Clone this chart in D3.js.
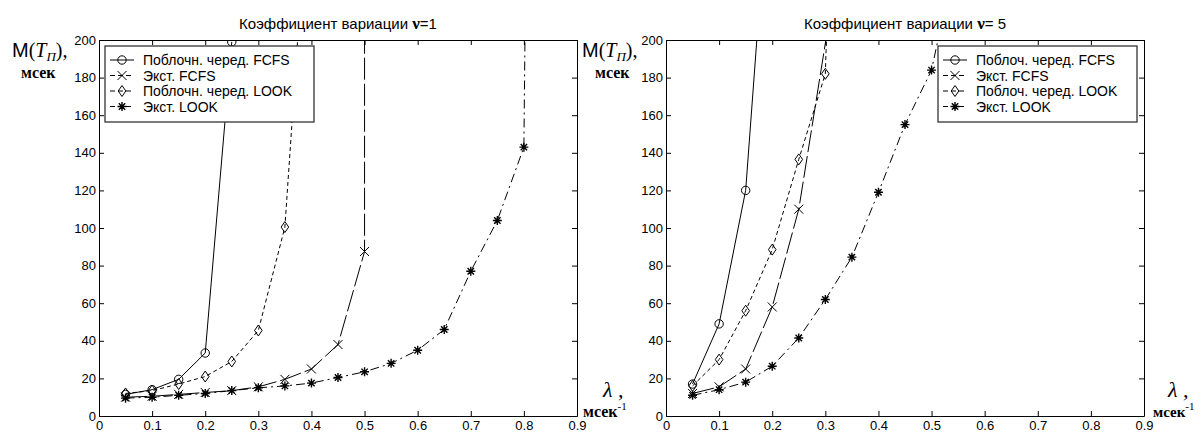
<!DOCTYPE html>
<html>
<head>
<meta charset="utf-8">
<script src="https://cdn.jsdelivr.net/npm/d3@7"></script>
<style>
  body { margin: 0; background: #fff; }
  svg text { fill: #000; }
</style>
</head>
<body>
<div id="chart"></div>
<script>
// intensity of requests, msec^-1
var lambda = [0.05, 0.1, 0.15, 0.2, 0.25, 0.3, 0.35, 0.4, 0.45, 0.5, 0.55, 0.6, 0.65, 0.7, 0.75, 0.8];
var xTicks = [0, 0.1, 0.2, 0.3, 0.4, 0.5, 0.6, 0.7, 0.8, 0.9];
var yTicks = [0, 20, 40, 60, 80, 100, 120, 140, 160, 180, 200];

// nu = 1 (left)
var blockFcfs1 = [11.5, 14, 19.5, 33.5, 199];
var extFcfs1 = [10, 10.5, 11.5, 12.5, 13.5, 15.5, 19.5, 25, 38, 87.5];
var blockLook1 = [12, 13.5, 17, 21, 29, 45.5, 100.5];
var extLook1 = [9.5, 10, 11, 12, 13.5, 15, 16, 17.5, 20.5, 23.5, 28, 35, 46, 77, 104, 143];
// lambda where each curve runs off the top of the axes
var exit1 = [null, 0.5, 0.374, 0.802];
var names1 = ["Поблочн. черед. FCFS", "Экст. FCFS", "Поблочн. черед. LOOK", "Экст. LOOK"];

// nu = 5 (right)
var blockFcfs5 = [17, 49, 120];
var extFcfs5 = [12, 15.5, 25, 58, 110];
var blockLook5 = [16, 30, 56, 88.5, 136.5, 182];
var extLook5 = [11, 14, 18, 26.5, 41.5, 62, 84.5, 119, 155, 184];
var exit5 = [0.171, 0.301, 0.302, 0.512];
var names5 = ["Поблоч. черед. FCFS", "Экст. FCFS", "Поблоч. черед. LOOK", "Экст. LOOK"];

var W = 1203, H = 435;
var serif = "'Liberation Serif', 'Times New Roman', serif";
var styles = [
  { dash: null, marker: "circle" },
  { dash: "22,4", marker: "x" },
  { dash: "4,3", marker: "diamond" },
  { dash: "9,4,2,4", marker: "star" }
];

var svg = d3.select("#chart").append("svg")
  .attr("width", W).attr("height", H)
  .style("font-family", "'Liberation Sans', Arial, sans-serif");

function marker(g, type, cx, cy) {
  var m = g.append("g").attr("transform", "translate(" + cx + "," + cy + ")")
    .attr("fill", "none").attr("stroke", "#000").attr("stroke-width", 1);
  if (type === "circle") m.append("circle").attr("r", 4.2);
  if (type === "x") m.append("path").attr("d", "M-4.5,-4.5L4.5,4.5M-4.5,4.5L4.5,-4.5");
  if (type === "diamond") m.append("path").attr("d", "M0,-5.5L3.8,0L0,5.5L-3.8,0Z");
  if (type === "star") m.append("path").attr("d", "M0,-4.5V4.5M-4.5,0H4.5M-3.2,-3.2L3.2,3.2M-3.2,3.2L3.2,-3.2").attr("stroke-width", 1.4);
}

function panel(o) {
  var g = svg.append("g");
  var x = d3.scaleLinear().domain([0, 0.9]).range([o.left, o.left + 478]);
  var y = d3.scaleLinear().domain([0, 200]).range([416, 40]);
  var fmtX = function (d) { return d === 0 ? "0" : d3.format(".1f")(d); };

  // axes, ticks inside on all four sides
  g.append("g").attr("transform", "translate(0,416)")
    .call(d3.axisBottom(x).tickValues(xTicks).tickFormat(fmtX).tickSizeInner(-5).tickSizeOuter(0).tickPadding(5));
  g.append("g").attr("transform", "translate(0,40)")
    .call(d3.axisTop(x).tickValues(xTicks).tickFormat("").tickSizeInner(-5).tickSizeOuter(0));
  g.append("g").attr("transform", "translate(" + o.left + ",0)")
    .call(d3.axisLeft(y).tickValues(yTicks).tickFormat(d3.format("d")).tickSizeInner(-5).tickSizeOuter(0).tickPadding(3));
  g.append("g").attr("transform", "translate(" + (o.left + 478) + ",0)")
    .call(d3.axisRight(y).tickValues(yTicks).tickFormat("").tickSizeInner(-5).tickSizeOuter(0));
  g.selectAll(".tick text").attr("font-size", 13).attr("font-family", "'Liberation Sans', Arial, sans-serif");
  g.selectAll(".domain, .tick line").attr("stroke", "#000");

  var clipId = "clip" + o.left;
  svg.append("clipPath").attr("id", clipId).append("rect")
    .attr("x", o.left).attr("y", 40).attr("width", 478).attr("height", 376);

  var line = d3.line().x(function (d) { return x(d[0]); }).y(function (d) { return y(d[1]); });
  var plot = g.append("g").attr("clip-path", "url(#" + clipId + ")");

  o.series.forEach(function (s, i) {
    var pts = s.map(function (v, j) { return [lambda[j], v]; });
    var path = pts.slice();
    if (o.exits[i] != null) path.push([o.exits[i], 200]);
    plot.append("path").attr("d", line(path)).attr("fill", "none")
      .attr("stroke", "#000").attr("stroke-width", 1)
      .attr("stroke-dasharray", styles[i].dash);
    pts.forEach(function (p) { marker(plot, styles[i].marker, x(p[0]), y(p[1])); });
  });

  // legend
  var lg = g.append("g").attr("transform", "translate(" + o.legX + ",46)");
  lg.append("rect").attr("width", o.legW).attr("height", 76)
    .attr("fill", "#fff").attr("stroke", "#333").attr("stroke-width", 1.3);
  o.names.forEach(function (n, i) {
    var ry = 14 + i * 15.5;
    lg.append("line").attr("x1", 5).attr("x2", 29).attr("y1", ry).attr("y2", ry)
      .attr("stroke", "#000").attr("stroke-dasharray", styles[i].dash ? "5,3" : null);
    marker(lg, styles[i].marker, 17, ry);
    lg.append("text").attr("x", 38).attr("y", ry + 5).attr("font-size", 14).text(n);
  });

  // title
  var t = g.append("text").attr("x", o.left + 239).attr("y", 29)
    .attr("text-anchor", "middle").attr("font-size", 15);
  t.append("tspan").text("Коэффициент вариации  ");
  t.append("tspan").attr("font-family", serif).attr("font-weight", "bold").attr("font-size", 17).text("ν");
  t.append("tspan").text(o.nu);

  // y axis label
  var ml = g.append("text").attr("x", o.mX).attr("y", 57).attr("font-size", 20);
  ml.append("tspan").text("M");
  ml.append("tspan").attr("font-family", serif).text("(");
  ml.append("tspan").attr("font-family", serif).attr("font-style", "italic").text("T");
  ml.append("tspan").attr("font-family", serif).attr("font-style", "italic")
    .attr("font-size", 13).attr("dy", 4).text("П");
  ml.append("tspan").attr("font-family", serif).attr("dy", -4).text("),");
  g.append("text").attr("x", o.mX + o.mskDx).attr("y", 78).attr("font-size", 16)
    .attr("font-family", serif).attr("font-weight", "bold").text("мсек");

  // x axis label
  g.append("text").attr("x", o.left + 478 + o.lamDx).attr("y", 397).attr("font-size", 22)
    .attr("font-family", serif).attr("font-style", "italic").text("λ ,");
  var ms = g.append("text").attr("x", o.left + 478 + o.msDx).attr("y", 417).attr("font-size", o.msSize)
    .attr("font-family", serif).attr("font-weight", "bold");
  ms.append("tspan").text("мсек");
  ms.append("tspan").attr("font-size", 11).attr("dy", -7).attr("font-weight", "normal").text("-1");
}

panel({ left: 99, nu: "=1", series: [blockFcfs1, extFcfs1, blockLook1, extLook1], exits: exit1,
        names: names1, legX: 105, legW: 209, mX: 12, mskDx: 9, lamDx: 26, msDx: 6, msSize: 16 });
panel({ left: 666, nu: "= 5", series: [blockFcfs5, extFcfs5, blockLook5, extLook5], exits: exit5,
        names: names5, legX: 938, legW: 199, mX: 582, mskDx: 13, lamDx: 24, msDx: 9, msSize: 15 });
</script>
</body>
</html>
